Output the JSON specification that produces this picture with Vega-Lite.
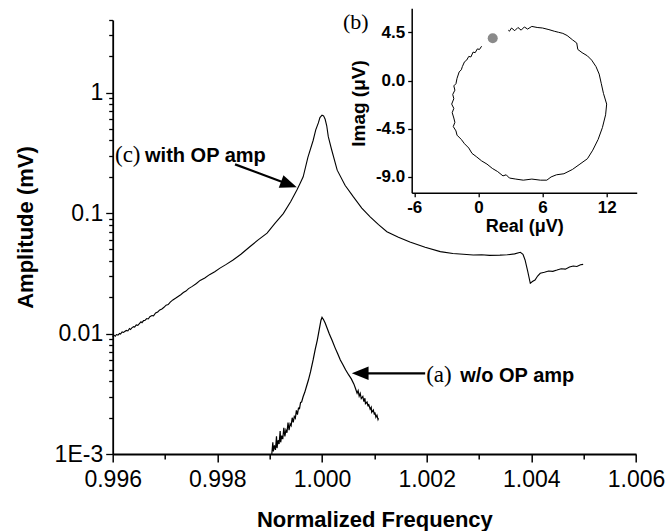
{
  "$schema": "https://vega.github.io/schema/vega-lite/v6.json",
  "width": 523.3,
  "height": 434,
  "autosize": {"type": "none"},
  "padding": {"left": 112.7, "top": 20, "right": 29, "bottom": 77},
  "background": "white",
  "config": {
    "view": {"stroke": null},
    "axis": {"grid": false, "domainColor": "black", "tickColor": "black", "labelColor": "black", "titleColor": "black", "labelOverlap": false, "labelFlush": false, "labelFont": "Liberation Sans", "titleFont": "Liberation Sans"}
  },
  "datasets": {
    "curveC": [
      {"f": 0.99600, "v": 0.0094}, {"f": 0.99602, "v": 0.0097}, {"f": 0.99605, "v": 0.0095}, {"f": 0.99607, "v": 0.0098},
      {"f": 0.99610, "v": 0.0097}, {"f": 0.99613, "v": 0.0100}, {"f": 0.99615, "v": 0.0099}, {"f": 0.99618, "v": 0.0103},
      {"f": 0.99621, "v": 0.0102}, {"f": 0.99623, "v": 0.0104}, {"f": 0.99626, "v": 0.0106}, {"f": 0.99629, "v": 0.0105},
      {"f": 0.99632, "v": 0.0110}, {"f": 0.99634, "v": 0.0108}, {"f": 0.99637, "v": 0.0112}, {"f": 0.99640, "v": 0.0114},
      {"f": 0.99642, "v": 0.0113}, {"f": 0.99645, "v": 0.0118}, {"f": 0.99648, "v": 0.0117}, {"f": 0.99651, "v": 0.0121},
      {"f": 0.99654, "v": 0.0125}, {"f": 0.99656, "v": 0.0123}, {"f": 0.99659, "v": 0.0128}, {"f": 0.99662, "v": 0.0129},
      {"f": 0.99665, "v": 0.0133}, {"f": 0.99668, "v": 0.0132}, {"f": 0.99671, "v": 0.0138}, {"f": 0.99675, "v": 0.0141},
      {"f": 0.99678, "v": 0.0140}, {"f": 0.99682, "v": 0.0148}, {"f": 0.99686, "v": 0.0151}, {"f": 0.99690, "v": 0.0157},
      {"f": 0.99694, "v": 0.0160}, {"f": 0.99698, "v": 0.0165}, {"f": 0.99702, "v": 0.0172}, {"f": 0.99706, "v": 0.0174},
      {"f": 0.99710, "v": 0.0182}, {"f": 0.99715, "v": 0.0190}, {"f": 0.99720, "v": 0.0196}, {"f": 0.99725, "v": 0.0203},
      {"f": 0.99730, "v": 0.0210}, {"f": 0.99735, "v": 0.0219}, {"f": 0.99740, "v": 0.0225}, {"f": 0.99745, "v": 0.0236},
      {"f": 0.99752, "v": 0.0246}, {"f": 0.99760, "v": 0.0260}, {"f": 0.99767, "v": 0.0276}, {"f": 0.99776, "v": 0.0289},
      {"f": 0.99785, "v": 0.0308}, {"f": 0.99795, "v": 0.0326}, {"f": 0.99805, "v": 0.0349}, {"f": 0.99817, "v": 0.0375},
      {"f": 0.99830, "v": 0.0407},
      {"f": 0.99845, "v": 0.0455}, {"f": 0.99862, "v": 0.0525}, {"f": 0.99878, "v": 0.0598}, {"f": 0.99895, "v": 0.068},
      {"f": 0.99910, "v": 0.082}, {"f": 0.99926, "v": 0.099}, {"f": 0.99940, "v": 0.124}, {"f": 0.99952, "v": 0.155},
      {"f": 0.99958, "v": 0.176}, {"f": 0.99964, "v": 0.200}, {"f": 0.99973, "v": 0.29}, {"f": 0.99983, "v": 0.40},
      {"f": 0.99988, "v": 0.49}, {"f": 0.99993, "v": 0.56}, {"f": 0.99996, "v": 0.62}, {"f": 1.00000, "v": 0.65},
      {"f": 1.00003, "v": 0.64}, {"f": 1.00006, "v": 0.60}, {"f": 1.00009, "v": 0.53}, {"f": 1.00012, "v": 0.43},
      {"f": 1.00018, "v": 0.34}, {"f": 1.00029, "v": 0.227}, {"f": 1.00044, "v": 0.17}, {"f": 1.00060, "v": 0.136},
      {"f": 1.00076, "v": 0.110}, {"f": 1.00092, "v": 0.093}, {"f": 1.00108, "v": 0.080}, {"f": 1.00124, "v": 0.070},
      {"f": 1.00146, "v": 0.063}, {"f": 1.00168, "v": 0.0575}, {"f": 1.00197, "v": 0.0520}, {"f": 1.00226, "v": 0.0478},
      {"f": 1.00250, "v": 0.0462}, {"f": 1.00270, "v": 0.0455}, {"f": 1.00289, "v": 0.0448}, {"f": 1.00305, "v": 0.0450},
      {"f": 1.00320, "v": 0.0445}, {"f": 1.00340, "v": 0.0447}, {"f": 1.00354, "v": 0.0450}, {"f": 1.00368, "v": 0.0458},
      {"f": 1.00379, "v": 0.0472}, {"f": 1.00384, "v": 0.0455}, {"f": 1.00388, "v": 0.0408}, {"f": 1.00393, "v": 0.0330},
      {"f": 1.00398, "v": 0.0261}, {"f": 1.00402, "v": 0.0270}, {"f": 1.00407, "v": 0.0278}, {"f": 1.00412, "v": 0.0300},
      {"f": 1.00417, "v": 0.0316}, {"f": 1.00425, "v": 0.0322}, {"f": 1.00433, "v": 0.0330}, {"f": 1.00441, "v": 0.0328},
      {"f": 1.00449, "v": 0.0336}, {"f": 1.00457, "v": 0.0345}, {"f": 1.00465, "v": 0.0342}, {"f": 1.00473, "v": 0.0356},
      {"f": 1.00480, "v": 0.0363}, {"f": 1.00487, "v": 0.0360}, {"f": 1.00494, "v": 0.0372}, {"f": 1.00499, "v": 0.0375}
    ],
    "curveA": [
      {"f": 0.99904, "v": 0.00100}, {"f": 0.99906, "v": 0.00125}, {"f": 0.99907, "v": 0.00105}, {"f": 0.99909, "v": 0.00118},
      {"f": 0.99911, "v": 0.00108}, {"f": 0.99913, "v": 0.00140}, {"f": 0.99914, "v": 0.00112}, {"f": 0.99916, "v": 0.00130},
      {"f": 0.99918, "v": 0.00121}, {"f": 0.99920, "v": 0.00155}, {"f": 0.99921, "v": 0.00125}, {"f": 0.99923, "v": 0.00142},
      {"f": 0.99925, "v": 0.00133}, {"f": 0.99927, "v": 0.00165}, {"f": 0.99929, "v": 0.00140}, {"f": 0.99931, "v": 0.00158},
      {"f": 0.99933, "v": 0.00150}, {"f": 0.99935, "v": 0.00182}, {"f": 0.99937, "v": 0.00158}, {"f": 0.99939, "v": 0.00178},
      {"f": 0.99941, "v": 0.00172}, {"f": 0.99943, "v": 0.00200}, {"f": 0.99945, "v": 0.00183}, {"f": 0.99947, "v": 0.00205},
      {"f": 0.99949, "v": 0.00198}, {"f": 0.99951, "v": 0.00230}, {"f": 0.99953, "v": 0.00212}, {"f": 0.99955, "v": 0.00240},
      {"f": 0.99957, "v": 0.00238}, {"f": 0.99959, "v": 0.00268}, {"f": 0.99961, "v": 0.00270}, {"f": 0.99964, "v": 0.00300},
      {"f": 0.99967, "v": 0.00325}, {"f": 0.99970, "v": 0.00360},
      {"f": 0.99974, "v": 0.00411}, {"f": 0.99978, "v": 0.00480}, {"f": 0.99983, "v": 0.00603}, {"f": 0.99987, "v": 0.00740},
      {"f": 0.99991, "v": 0.00883}, {"f": 0.99995, "v": 0.0110}, {"f": 0.99998, "v": 0.0129}, {"f": 1.00000, "v": 0.0136},
      {"f": 1.00003, "v": 0.0130}, {"f": 1.00006, "v": 0.0122}, {"f": 1.00010, "v": 0.0110}, {"f": 1.00014, "v": 0.0099},
      {"f": 1.00019, "v": 0.00883}, {"f": 1.00025, "v": 0.0076}, {"f": 1.00030, "v": 0.0068}, {"f": 1.00035, "v": 0.00603},
      {"f": 1.00040, "v": 0.0055}, {"f": 1.00045, "v": 0.0050}, {"f": 1.00051, "v": 0.00453}, {"f": 1.00056, "v": 0.0042},
      {"f": 1.00061, "v": 0.0038}, {"f": 1.00064, "v": 0.0035}, {"f": 1.00067, "v": 0.00319}, {"f": 1.00069, "v": 0.00336},
      {"f": 1.00071, "v": 0.00302}, {"f": 1.00073, "v": 0.00318}, {"f": 1.00075, "v": 0.00288}, {"f": 1.00078, "v": 0.00300},
      {"f": 1.00080, "v": 0.00272}, {"f": 1.00082, "v": 0.00290}, {"f": 1.00083, "v": 0.00262}, {"f": 1.00086, "v": 0.00270},
      {"f": 1.00088, "v": 0.00248}, {"f": 1.00089, "v": 0.00260}, {"f": 1.00092, "v": 0.00235}, {"f": 1.00094, "v": 0.00244},
      {"f": 1.00095, "v": 0.00222}, {"f": 1.00098, "v": 0.00232}, {"f": 1.00100, "v": 0.00212}, {"f": 1.00101, "v": 0.00222},
      {"f": 1.00103, "v": 0.00202}, {"f": 1.00105, "v": 0.00210}, {"f": 1.00107, "v": 0.00193}, {"f": 1.00108, "v": 0.00198}
    ],
    "arrows": [
      {"id": "c", "f": 0.998338, "v": 0.2535, "f2": 0.99937, "v2": 0.1726, "ft": 0.999518, "vt": 0.1633},
      {"id": "a", "f": 1.001971, "v": 0.004675, "f2": 1.00080, "v2": 0.004675, "ft": 1.000570, "vt": 0.004675}
    ],
    "serifLabels": [
      {"f": 0.996044, "v": 0.265, "label": "(c)"},
      {"f": 1.001990, "v": 0.00398, "label": "(a)"}
    ],
    "boldLabels": [
      {"f": 0.996618, "v": 0.265, "label": "with OP amp"},
      {"f": 1.002640, "v": 0.00398, "label": "w/o OP amp"}
    ],
    "circle": [
      {"k": 1, "re": 0.3, "im": 3.2}, {"k": 2, "re": 0.1, "im": 2.9}, {"k": 3, "re": -0.1, "im": 2.95}, {"k": 4, "re": -0.3, "im": 2.6},
      {"k": 5, "re": -0.5, "im": 2.65}, {"k": 6, "re": -0.7, "im": 2.2}, {"k": 7, "re": -0.9, "im": 2.25}, {"k": 8, "re": -1.1, "im": 1.9},
      {"k": 9, "re": -1.3, "im": 1.75}, {"k": 10, "re": -1.5, "im": 1.3}, {"k": 11, "re": -1.6, "im": 1.0}, {"k": 12, "re": -1.8, "im": 0.8},
      {"k": 13, "re": -2.0, "im": 0.2}, {"k": 14, "re": -2.1, "im": -0.3}, {"k": 15, "re": -2.3, "im": -0.5}, {"k": 16, "re": -2.2, "im": -0.9},
      {"k": 17, "re": -2.4, "im": -1.3}, {"k": 18, "re": -2.3, "im": -1.7}, {"k": 19, "re": -2.5, "im": -2.2}, {"k": 20, "re": -2.3, "im": -2.6},
      {"k": 21, "re": -2.45, "im": -3.0}, {"k": 22, "re": -2.3, "im": -3.5}, {"k": 23, "re": -2.2, "im": -3.9}, {"k": 24, "re": -2.35, "im": -4.3},
      {"k": 25, "re": -2.1, "im": -4.7}, {"k": 26, "re": -2.0, "im": -5.1}, {"k": 27, "re": -1.6, "im": -5.5}, {"k": 28, "re": -1.3, "im": -5.9},
      {"k": 29, "re": -0.9, "im": -6.3}, {"k": 30, "re": -0.6, "im": -6.8}, {"k": 31, "re": -0.2, "im": -7.1}, {"k": 32, "re": 0.3, "im": -7.5},
      {"k": 33, "re": 0.8, "im": -7.8}, {"k": 34, "re": 1.3, "im": -8.2}, {"k": 35, "re": 1.8, "im": -8.5}, {"k": 36, "re": 2.3, "im": -8.9},
      {"k": 37, "re": 2.6, "im": -8.8}, {"k": 38, "re": 2.9, "im": -9.1}, {"k": 39, "re": 3.5, "im": -9.2}, {"k": 40, "re": 4.2, "im": -9.3},
      {"k": 41, "re": 5.0, "im": -9.2}, {"k": 42, "re": 5.8, "im": -9.3}, {"k": 43, "re": 6.4, "im": -9.3}, {"k": 44, "re": 6.8, "im": -9.0},
      {"k": 45, "re": 7.3, "im": -8.8}, {"k": 46, "re": 8.0, "im": -8.7}, {"k": 47, "re": 8.8, "im": -8.3}, {"k": 48, "re": 9.5, "im": -7.8},
      {"k": 49, "re": 10.2, "im": -7.3}, {"k": 50, "re": 10.7, "im": -6.5}, {"k": 51, "re": 11.2, "im": -5.5}, {"k": 52, "re": 11.6, "im": -4.4},
      {"k": 53, "re": 11.9, "im": -3.2}, {"k": 54, "re": 12.0, "im": -2.2}, {"k": 55, "re": 11.7, "im": -1.2}, {"k": 56, "re": 11.5, "im": -0.3},
      {"k": 57, "re": 11.3, "im": 0.6}, {"k": 58, "re": 11.0, "im": 1.3}, {"k": 59, "re": 10.6, "im": 1.9}, {"k": 60, "re": 10.2, "im": 2.3},
      {"k": 61, "re": 9.7, "im": 2.6}, {"k": 62, "re": 9.3, "im": 2.9}, {"k": 63, "re": 9.2, "im": 3.5}, {"k": 64, "re": 8.8, "im": 3.8},
      {"k": 65, "re": 8.3, "im": 4.2}, {"k": 66, "re": 7.9, "im": 4.4}, {"k": 67, "re": 7.5, "im": 4.5}, {"k": 68, "re": 7.1, "im": 4.6},
      {"k": 69, "re": 6.6, "im": 4.75}, {"k": 70, "re": 6.0, "im": 4.9}, {"k": 71, "re": 5.5, "im": 4.95}, {"k": 72, "re": 5.0, "im": 5.05},
      {"k": 73, "re": 4.6, "im": 4.8}, {"k": 74, "re": 4.3, "im": 5.0}, {"k": 75, "re": 4.0, "im": 4.7}, {"k": 76, "re": 3.7, "im": 4.95},
      {"k": 77, "re": 3.4, "im": 4.65}, {"k": 78, "re": 3.1, "im": 4.9}, {"k": 79, "re": 2.9, "im": 4.6}, {"k": 80, "re": 2.8, "im": 4.7}
    ],
    "dot": [{"re": 1.34, "im": 3.94}],
    "insetLabel": [{"re": -12.67, "im": 4.85, "label": "(b)"}]
  },
  "layer": [
    {
      "encoding": {
        "x": {
          "field": "f", "type": "quantitative",
          "scale": {"domain": [0.996, 1.006], "nice": false, "zero": false},
          "axis": {
            "values": [0.996, 0.997, 0.998, 0.999, 1.000, 1.001, 1.002, 1.003, 1.004, 1.005, 1.006],
            "labelExpr": "round(datum.value*1000) % 2 == 0 ? format(datum.value, '.3f') : ''",
            "tickSize": {"condition": {"test": "round(datum.value*1000) % 2 == 0", "value": 8}, "value": 5},
            "tickWidth": 1.5, "domainWidth": 1.8,
            "labelFontSize": 23, "labelBaseline": "alphabetic", "labelPadding": 24,
            "title": "Normalized Frequency", "titleFontSize": 22, "titleFontWeight": "bold",
            "titleBaseline": "alphabetic", "titleY": 72
          }
        },
        "y": {
          "field": "v", "type": "quantitative",
          "scale": {"type": "log", "domain": [0.001, 4], "nice": false},
          "axis": {
            "values": [0.001, 0.002, 0.003, 0.004, 0.005, 0.006, 0.007, 0.008, 0.009, 0.01, 0.02, 0.03, 0.04, 0.05, 0.06, 0.07, 0.08, 0.09, 0.1, 0.2, 0.3, 0.4, 0.5, 0.6, 0.7, 0.8, 0.9, 1, 2, 3, 4],
            "labelExpr": "datum.value == 0.001 ? '1E-3' : datum.value == 0.01 ? '0.01' : datum.value == 0.1 ? '0.1' : datum.value == 1 ? '1' : ''",
            "tickSize": {"condition": {"test": "datum.value == 0.001 || datum.value == 0.01 || datum.value == 0.1 || datum.value == 1", "value": 7}, "value": 4},
            "tickWidth": 1.3, "domainWidth": 1.8,
            "labelFontSize": 23, "labelPadding": 3, "labelBaseline": "middle",
            "title": "Amplitude (mV)", "titleFontSize": 22, "titleFontWeight": "bold",
            "titleBaseline": "alphabetic", "titleX": -80, "titleY": 207
          }
        }
      },
      "layer": [
        {"data": {"name": "curveC"}, "mark": {"type": "line", "color": "black", "strokeWidth": 1.1}},
        {"data": {"name": "curveA"}, "mark": {"type": "line", "color": "black", "strokeWidth": 1.2}},
        {"data": {"name": "arrows"}, "mark": {"type": "rule", "color": "black", "strokeWidth": 2.2},
         "encoding": {"x2": {"field": "f2"}, "y2": {"field": "v2"}}},
        {"data": {"name": "arrows"}, "transform": [{"filter": "datum.id == 'c'"}],
         "mark": {"type": "point", "shape": "M0,0L2,-0.8L2,0.8Z", "filled": true, "color": "black", "opacity": 1, "size": 280, "angle": 200.4},
         "encoding": {"x": {"field": "ft", "type": "quantitative"}, "y": {"field": "vt", "type": "quantitative"}}},
        {"data": {"name": "arrows"}, "transform": [{"filter": "datum.id == 'a'"}],
         "mark": {"type": "point", "shape": "M0,0L2,-0.8L2,0.8Z", "filled": true, "color": "black", "opacity": 1, "size": 280, "angle": 0},
         "encoding": {"x": {"field": "ft", "type": "quantitative"}, "y": {"field": "vt", "type": "quantitative"}}},
        {"data": {"name": "serifLabels"},
         "mark": {"type": "text", "font": "Liberation Serif", "fontSize": 23, "align": "left", "baseline": "alphabetic", "color": "black"},
         "encoding": {"text": {"field": "label"}}},
        {"data": {"name": "boldLabels"},
         "mark": {"type": "text", "font": "Liberation Sans", "fontSize": 20, "fontWeight": "bold", "align": "left", "baseline": "alphabetic", "color": "black"},
         "encoding": {"text": {"field": "label"}}}
      ]
    },
    {
      "encoding": {
        "x": {
          "field": "re", "type": "quantitative",
          "scale": {"domain": [-6.24, 14.81], "range": [299, 524], "nice": false, "zero": false},
          "axis": {
            "orient": "bottom", "offset": -261.3,
            "values": [-6, 0, 6, 12], "labelExpr": "'' + datum.value",
            "tickSize": 4, "tickWidth": 1.3, "domainWidth": 1.5,
            "labelFontSize": 17, "labelFontWeight": "bold", "labelBaseline": "alphabetic", "labelPadding": 16,
            "title": "Real (μV)", "titleFontSize": 18, "titleFontWeight": "bold",
            "titleBaseline": "alphabetic", "titleY": 39
          }
        },
        "y": {
          "field": "im", "type": "quantitative",
          "scale": {"domain": [-10.47, 6.74], "range": [172.7, -11.7], "nice": false, "zero": false},
          "axis": {
            "orient": "left", "offset": -299,
            "values": [-9, -4.5, 0, 4.5],
            "labelExpr": "datum.value == 0 ? '0.0' : datum.value == -9 ? '-9.0' : '' + datum.value",
            "tickSize": 4, "tickWidth": 1.3, "domainWidth": 1.5,
            "labelFontSize": 17, "labelFontWeight": "bold", "labelPadding": 3, "labelBaseline": "middle",
            "title": "Imag (μV)", "titleFontSize": 19, "titleFontWeight": "bold",
            "titleBaseline": "alphabetic", "titleX": -47, "titleY": 83
          }
        }
      },
      "layer": [
        {"data": {"name": "circle"}, "mark": {"type": "line", "color": "black", "strokeWidth": 1},
         "encoding": {"order": {"field": "k", "type": "quantitative"}}},
        {"data": {"name": "dot"}, "mark": {"type": "point", "shape": "circle", "filled": true, "color": "#8a8a8a", "opacity": 1, "size": 100}},
        {"data": {"name": "insetLabel"},
         "mark": {"type": "text", "font": "Liberation Serif", "fontSize": 22, "align": "left", "baseline": "alphabetic", "color": "black"},
         "encoding": {"text": {"field": "label"}}}
      ]
    }
  ],
  "resolve": {"scale": {"x": "independent", "y": "independent"}, "axis": {"x": "independent", "y": "independent"}}
}
